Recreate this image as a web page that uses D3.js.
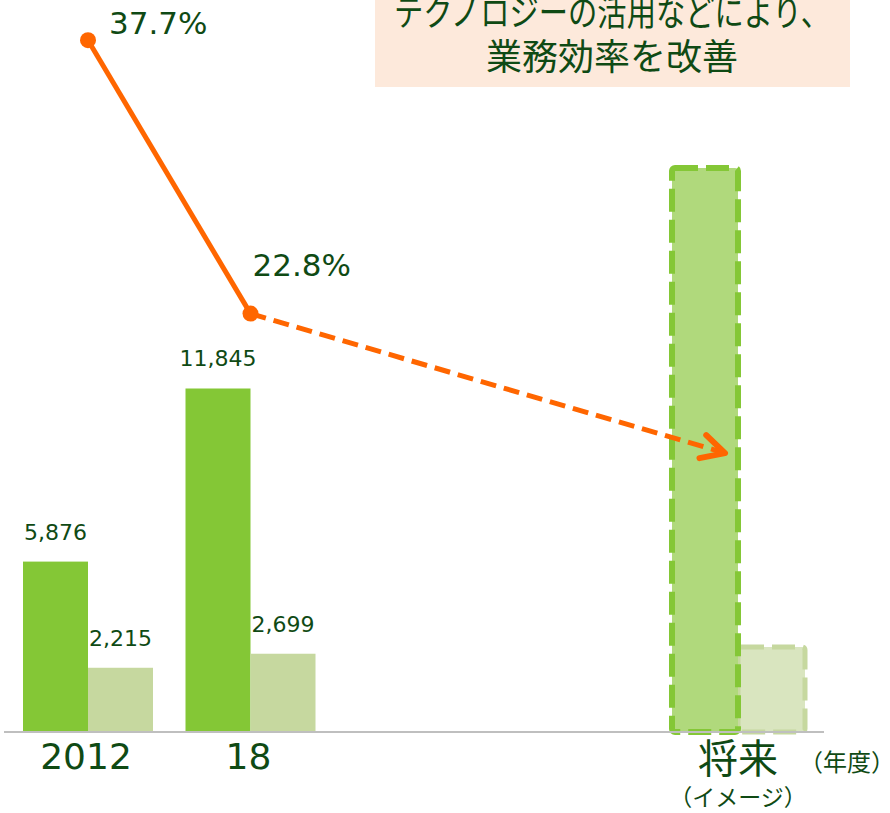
<!DOCTYPE html>
<html>
<head>
<meta charset="utf-8">
<script src="https://cdn.jsdelivr.net/npm/d3@7"></script>
<style>
  body { margin: 0; background: #fff; }
  svg { display: block; }
  text { fill: #0f4a14; }
</style>
</head>
<body>
<div id="chart"></div>
<script>
// categories and their slot along the x axis (future bar sits further right)
const categories = ["2012", "18", "将来"];
const slots = [0, 1, 4];
// series values
const darkValues = [5876, 11845, 19450];
const lightValues = [2215, 2699, 2930];
const darkLabels = ["5,876", "11,845", null];
const lightLabels = ["2,215", "2,699", null];
// ratio line (light / dark, %)
const ratioValues = [37.7, 22.8];
const ratioLabels = ["37.7%", "22.8%"];
const ratioTarget = 15.2;
const boxLines = ["テクノロジーの活用などにより、", "業務効率を改善"];

const width = 890, height = 813;
const baseY = 732;
const barW = 65;

let svg = d3.select("#chart").append("svg")
    .attr("width", width)
    .attr("height", height);

let xScale = d3.scaleLinear().domain([0, 4]).range([88, 738]);
let yScale = d3.scaleLinear().domain([0, 25000]).range([baseY, 7]);
let pScale = d3.scaleLinear().domain([0, 40]).range([baseY, -2]);

// top note box
let box = svg.append("g");
box.append("rect")
    .attr("x", 375).attr("y", -10)
    .attr("width", 475).attr("height", 97)
    .style("fill", "#fde9db");
box.selectAll("text")
    .data(boxLines)
    .enter()
    .append("text")
    .attr("x", 612)
    .attr("y", (d, i) => 26 + i * 44)
    .attr("text-anchor", "middle")
    .attr("textLength", (d, i) => i == 0 ? 436 : null)
    .attr("lengthAdjust", "spacingAndGlyphs")
    .style("font-family", "'Noto Sans CJK JP'")
    .style("font-size", "36px")
    .text(d => d);

// bars
let rows = categories.map((c, i) => ({
  cat: c, slot: slots[i], dark: darkValues[i], light: lightValues[i],
  dl: darkLabels[i], ll: lightLabels[i], future: i == 2
}));

let gBars = svg.append("g");
rows.forEach(r => {
  let cx = xScale(r.slot);
  if (!r.future) {
    gBars.append("rect")
        .attr("x", cx - barW).attr("y", yScale(r.dark))
        .attr("width", barW).attr("height", baseY - yScale(r.dark))
        .style("fill", "#84c736");
    gBars.append("rect")
        .attr("x", cx).attr("y", yScale(r.light))
        .attr("width", barW).attr("height", baseY - yScale(r.light))
        .style("fill", "#c6d89f");
  } else {
    gBars.append("rect")
        .attr("x", cx).attr("y", yScale(r.light))
        .attr("width", barW + 2).attr("height", baseY - yScale(r.light))
        .attr("rx", 3)
        .style("fill", "#d9e5bf")
        .style("stroke", "#c6d89f")
        .style("stroke-width", 5)
        .style("stroke-dasharray", "23,8");
    gBars.append("rect")
        .attr("x", cx - barW - 1).attr("y", yScale(r.dark))
        .attr("width", barW + 1).attr("height", baseY - yScale(r.dark))
        .attr("rx", 3)
        .style("fill", "#b0d97c")
        .style("stroke", "#84c736")
        .style("stroke-width", 6)
        .style("stroke-dasharray", "23,8");
  }
  if (r.dl) {
    gBars.append("text")
        .attr("x", cx - barW / 2).attr("y", yScale(r.dark) - 22)
        .attr("text-anchor", "middle")
        .style("font-family", "'DejaVu Sans'")
        .style("font-size", "22px")
        .text(r.dl);
  }
  if (r.ll) {
    gBars.append("text")
        .attr("x", cx + barW / 2).attr("y", yScale(r.light) - 22)
        .attr("text-anchor", "middle")
        .style("font-family", "'DejaVu Sans'")
        .style("font-size", "22px")
        .text(r.ll);
  }
});

// baseline
svg.append("line")
    .attr("x1", 4).attr("x2", 824)
    .attr("y1", baseY).attr("y2", baseY)
    .style("stroke", "#bfbfbf")
    .style("stroke-width", 2);

// category labels
rows.forEach(r => {
  let cx = xScale(r.slot);
  if (!r.future) {
    svg.append("text")
        .attr("x", cx - 2).attr("y", 769)
        .attr("text-anchor", "middle")
        .style("font-family", "'DejaVu Sans'")
        .style("font-size", "36px")
        .text(r.cat);
  } else {
    svg.append("text")
        .attr("x", cx).attr("y", 773)
        .attr("text-anchor", "middle")
        .style("font-family", "'Noto Sans CJK JP'")
        .style("font-size", "40px")
        .text(r.cat);
    svg.append("text")
        .attr("x", cx).attr("y", 806)
        .attr("text-anchor", "middle")
        .style("font-family", "'Noto Sans CJK JP'")
        .style("font-size", "23px")
        .text("（イメージ）");
  }
});
svg.append("text")
    .attr("x", 799).attr("y", 771)
    .style("font-family", "'Noto Sans CJK JP'")
    .style("font-size", "24px")
    .text("（年度）");

// ratio line
let pts = ratioValues.map((v, i) => [xScale(slots[i]), pScale(v)]);
let gLine = svg.append("g");
gLine.append("path")
    .attr("d", d3.line()(pts))
    .style("fill", "none")
    .style("stroke", "#ff6600")
    .style("stroke-width", 5);

// dashed projection arrow
let arrowGap = 13;
let tip = [xScale(slots[2]) - arrowGap, pScale(ratioTarget)];
let start = pts[pts.length - 1];
gLine.append("path")
    .attr("d", d3.line()([start, tip]))
    .style("fill", "none")
    .style("stroke", "#ff6600")
    .style("stroke-width", 5)
    .style("stroke-dasharray", "16,8");
let ang = Math.atan2(tip[1] - start[1], tip[0] - start[0]) + Math.PI;
let armLen = 26, spread = 0.48;
let arm1 = [tip[0] + armLen * Math.cos(ang + spread), tip[1] + armLen * Math.sin(ang + spread)];
let arm2 = [tip[0] + armLen * Math.cos(ang - spread), tip[1] + armLen * Math.sin(ang - spread)];
gLine.append("path")
    .attr("d", d3.line()([arm1, tip, arm2]))
    .style("fill", "none")
    .style("stroke", "#ff6600")
    .style("stroke-width", 6)
    .style("stroke-linecap", "round")
    .style("stroke-linejoin", "round");

gLine.selectAll("circle")
    .data(pts)
    .enter()
    .append("circle")
    .attr("cx", d => d[0]).attr("cy", d => d[1])
    .attr("r", 8)
    .style("fill", "#ff6600");

let labelOff = [[21, -6], [2, -38]];
gLine.selectAll("text")
    .data(pts)
    .enter()
    .append("text")
    .attr("x", (d, i) => d[0] + labelOff[i][0])
    .attr("y", (d, i) => d[1] + labelOff[i][1])
    .style("font-family", "'DejaVu Sans'")
    .style("font-size", "31px")
    .text((d, i) => ratioLabels[i]);
</script>
</body>
</html>
